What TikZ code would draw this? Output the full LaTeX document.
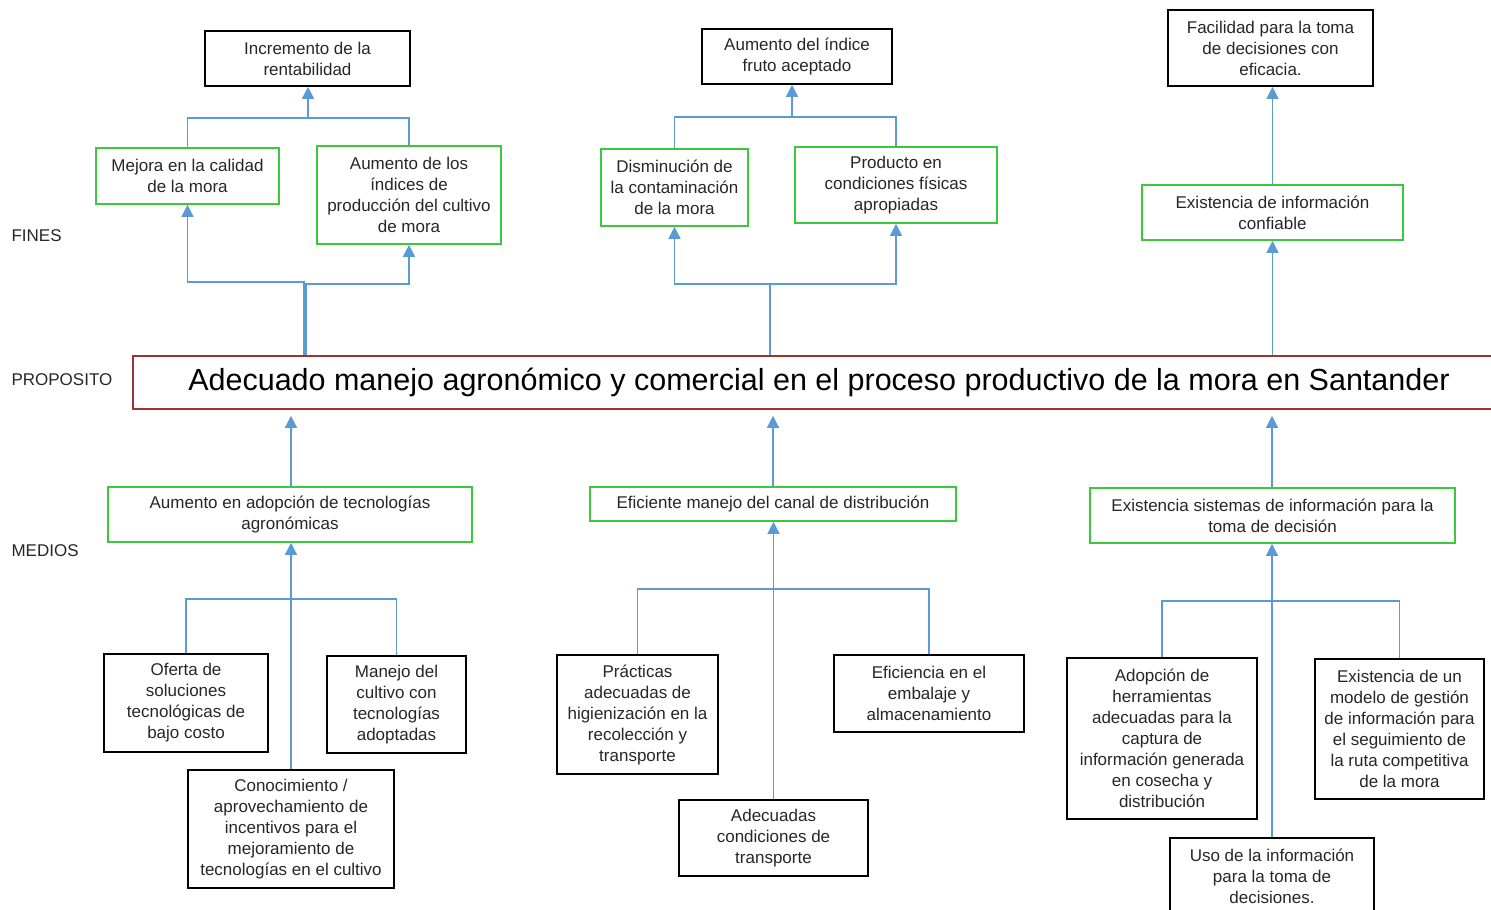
\documentclass[tikz,border=0pt]{standalone}
\usepackage{fontspec}
\setmainfont{Liberation Sans}
\usetikzlibrary{arrows.meta}
\definecolor{azul}{RGB}{91,155,213}
\definecolor{verde}{RGB}{60,200,60}
\definecolor{rojo}{RGB}{160,50,50}
\definecolor{texto}{RGB}{38,38,38}

\begin{document}
\begin{tikzpicture}[x=1pt,y=-1pt,
	caja/.style={draw,line width=1.6pt,align=center,inner sep=2pt,text=texto,font=\fontsize{17}{21}\selectfont},
	cajanegra/.style={caja,draw=black},
	cajaverde/.style={caja,draw=verde},
	linea/.style={draw=azul,line width=1.4pt},
	flecha/.style={linea,-{Triangle[width=12pt,length=12pt]}},
	etiqueta/.style={anchor=west,text=texto,font=\fontsize{17}{21}\selectfont}]
		\useasboundingbox (0,0) rectangle (1491,910);
		\clip (0,0) rectangle (1491,910);

		% Los niveles
			\node[etiqueta] (lfines) at (8,236) {FINES};
			\node[etiqueta] (lprop) at (8,380) {PROPOSITO};
			\node[etiqueta] (lmedios) at (8,551) {MEDIOS};

		% Fines
			\node[cajanegra,minimum width=205,minimum height=55] (incremento) at (307.5,58.5) {Incremento de la\\rentabilidad};
			\node[cajanegra,minimum width=190,minimum height=55] (indice) at (797,56.5) {Aumento del índice\\fruto aceptado};
			\node[cajanegra,minimum width=205,minimum height=76] (facil) at (1270.5,48) {Facilidad para la toma\\de decisiones con\\eficacia.};
			\node[cajaverde,minimum width=183,minimum height=56] (mejora) at (187.5,176) {Mejora en la calidad\\de la mora};
			\node[cajaverde,minimum width=184,minimum height=98] (aumdelos) at (409,195) {Aumento de los\\índices de\\producción del cultivo\\de mora};
			\node[cajaverde,minimum width=147,minimum height=77] (dism) at (674.5,187.5) {Disminución de\\la contaminación\\de la mora};
			\node[cajaverde,minimum width=202,minimum height=76] (prod) at (896,185) {Producto en\\condiciones físicas\\apropiadas};
			\node[cajaverde,minimum width=261,minimum height=55] (conf) at (1272.5,212.5) {Existencia de información\\confiable};

		% Proposito
			\node[draw=rojo,line width=1.6pt,minimum width=1372,minimum height=53,text=black,font=\fontsize{30.5}{36}\selectfont] (prop) at (819,382.5) {\raisebox{-2pt}{Adecuado manejo agronómico y comercial en el proceso productivo de la mora en Santander}};

		% Medios
			\node[cajaverde,minimum width=364,minimum height=55] (adop) at (290,514.5) {Aumento en adopción de tecnologías\\agronómicas};
			\node[cajaverde,minimum width=366,minimum height=34] (canal) at (773,504) {Eficiente manejo del canal de distribución};
			\node[cajaverde,minimum width=365,minimum height=55] (sist) at (1272.5,515.5) {Existencia sistemas de información para la\\toma de decisión};
			\node[cajanegra,minimum width=164,minimum height=98] (oferta) at (186,703) {Oferta de\\soluciones\\tecnológicas de\\bajo costo};
			\node[cajanegra,minimum width=139,minimum height=97] (manejo) at (396.5,704.5) {Manejo del\\cultivo con\\tecnologías\\adoptadas};
			\node[cajanegra,minimum width=206,minimum height=118] (conoc) at (291,829) {Conocimiento /\\aprovechamiento de\\incentivos para el\\mejoramiento de\\tecnologías en el cultivo};
			\node[cajanegra,minimum width=161,minimum height=119] (pract) at (637.5,714.5) {Prácticas\\adecuadas de\\higienización en la\\recolección y\\transporte};
			\node[cajanegra,minimum width=190,minimum height=77] (efic) at (929,693.5) {Eficiencia en el\\embalaje y\\almacenamiento};
			\node[cajanegra,minimum width=189,minimum height=76] (adecu) at (773.5,838) {Adecuadas\\condiciones de\\transporte};
			\node[cajanegra,minimum width=190,minimum height=161] (herram) at (1162,738.5) {Adopción de\\herramientas\\adecuadas para la\\captura de\\información generada\\en cosecha y\\distribución};
			\node[cajanegra,minimum width=169,minimum height=140] (modelo) at (1399.5,729) {Existencia de un\\modelo de gestión\\de información para\\el seguimiento de\\la ruta competitiva\\de la mora};
			\node[cajanegra,minimum width=204,minimum height=77] (uso) at (1272,876.5) {Uso de la información\\para la toma de\\decisiones.};

		% Conectores de arriba
			\coordinate (u1) at (308,118);
			\coordinate (u2) at (792,117);
			\draw[linea] (mejora.north) |- (u1) -| (aumdelos.north);
			\draw[flecha] (u1) -- (u1 |- incremento.south);
			\draw[linea] (dism.north) |- (u2) -| (prod.north);
			\draw[flecha] (u2) -- (u2 |- indice.south);
			\draw[flecha] (conf.north) -- (conf.north |- facil.south);
			\draw[flecha] (prop.north -| 304,0) -- (304,282) -| (mejora.south);
			\draw[flecha] (prop.north -| 306,0) -- (306,284) -| (aumdelos.south);
			\draw[flecha] (prop.north -| 770,0) -- (770,284) -| (dism.south);
			\draw[flecha] (prop.north -| 770,0) -- (770,284) -| (prod.south);
			\draw[flecha] (prop.north -| conf.south) -- (conf.south);

		% Conectores de abajo
			\coordinate (b1) at (291,599);
			\coordinate (b2) at (774,589);
			\coordinate (b3) at (1272,601);
			\draw[flecha,shorten >=6pt] (adop.north -| 291,0) -- (prop.south -| 291,0);
			\draw[flecha,shorten >=6pt] (canal.north) -- (canal.north |- prop.south);
			\draw[flecha,shorten >=6pt] (sist.north -| 1272,0) -- (prop.south -| 1272,0);
			\draw[linea] (oferta.north) |- (b1) -| (manejo.north);
			\draw[flecha] (conoc.north) -- (conoc.north |- adop.south);
			\draw[linea] (pract.north) |- (b2) -| (efic.north);
			\draw[flecha] (adecu.north) -- (adecu.north |- canal.south);
			\draw[linea] (herram.north) |- (b3) -| (modelo.north);
			\draw[flecha] (uso.north) -- (uso.north |- sist.south);
\end{tikzpicture}
\end{document}
